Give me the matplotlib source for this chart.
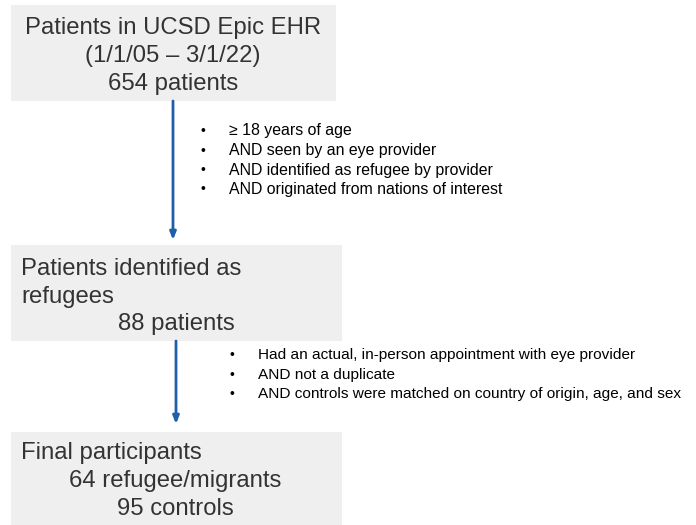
import matplotlib
matplotlib.use("Agg")
from matplotlib import pyplot as plt
from matplotlib.patches import Rectangle

plt.rcParams['font.family'] = ['Liberation Sans', 'DejaVu Sans']

# box texts: (line, alignment)
box1_lines = ["Patients in UCSD Epic EHR", "(1/1/05 \u2013 3/1/22)", "654 patients"]
box2_lines = ["Patients identified as", "refugees", "88 patients"]
box2_align = ["left", "left", "center"]
box3_lines = ["Final participants", "64 refugee/migrants", "95 controls"]
box3_align = ["left", "center", "center"]

criteria1 = ["\u2265 18 years of age",
             "AND seen by an eye provider",
             "AND identified as refugee by provider",
             "AND originated from nations of interest"]
criteria2 = ["Had an actual, in-person appointment with eye provider",
             "AND not a duplicate",
             "AND controls were matched on country of origin, age, and sex"]

BOX_COLOR = '#efefef'
TEXT_COLOR = '#333333'
ARROW_COLOR = '#1f5ea8'

fig = plt.figure(figsize=(6.96, 5.25), dpi=100)
ax = fig.add_axes([0, 0, 1, 1])
ax.set_xlim(0, 696)
ax.set_ylim(525, 0)
ax.axis('off')


def draw_box(x0, y0, x1, y1, lines, aligns, ys, xc):
    ax.add_patch(Rectangle((x0, y0), x1 - x0, y1 - y0, facecolor=BOX_COLOR, edgecolor='none'))
    for line, al, y in zip(lines, aligns, ys):
        if al == 'center':
            ax.text(xc, y, line, ha='center', va='center', fontsize=17.2, color=TEXT_COLOR)
        else:
            ax.text(x0 + 10, y, line, ha='left', va='center', fontsize=17.2, color=TEXT_COLOR)


def draw_arrow(x, y0, y1):
    ax.annotate('', xy=(x, y1), xytext=(x, y0),
                arrowprops=dict(arrowstyle='-|>,head_length=0.45,head_width=0.18',
                                color=ARROW_COLOR, lw=2, shrinkA=0, shrinkB=0))


def draw_bullets(xb, xt, y0, dy, items, size):
    for i, item in enumerate(items):
        y = y0 + i * dy
        ax.text(xb, y, "\u2022", ha='center', va='center', fontsize=10, color='black')
        ax.text(xt, y, item, ha='left', va='center', fontsize=size, color='black')


draw_box(11, 5, 336, 101, box1_lines, ['center'] * 3, [28, 56, 84], 173)
draw_box(11, 245, 342, 341, box2_lines, box2_align, [269, 297, 324], 176)
draw_box(11, 432, 342, 525, box3_lines, box3_align, [453, 481, 509], 175)

draw_arrow(173, 101, 240)
draw_arrow(176, 341, 424)

draw_bullets(203, 229, 131, 19.5, criteria1, 11.4)
draw_bullets(232, 258, 355, 19.5, criteria2, 11.05)

fig.savefig('out.png', dpi=100)
